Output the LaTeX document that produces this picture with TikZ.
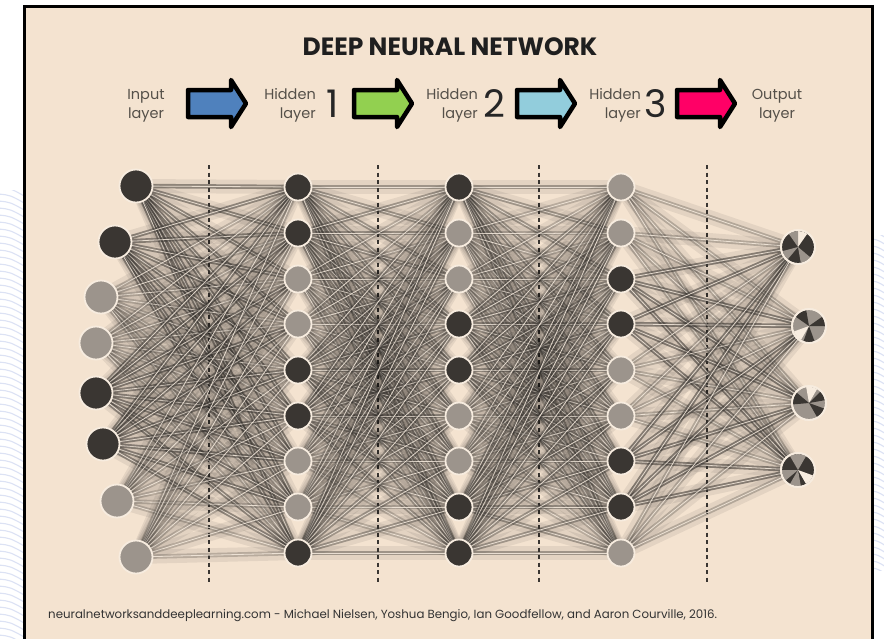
\documentclass[tikz,border=0pt]{standalone}
\usepackage{fontspec}
\setmainfont{Poppins}
\definecolor{bg}{HTML}{F4E3D0}
\definecolor{dk}{HTML}{3A3632}
\definecolor{gr}{HTML}{9C948C}
\definecolor{rim}{HTML}{F7ECDF}
\definecolor{ablue}{HTML}{4F81BD}
\definecolor{agreen}{HTML}{92D050}
\definecolor{acyan}{HTML}{92CDDC}
\definecolor{apink}{HTML}{FF0066}
\definecolor{stripe}{HTML}{DCE2F4}
\definecolor{txt}{HTML}{555049}
\newcommand\myconn[3]{%
  \draw[line width=14pt, black, opacity=0.065] (#1) -- (#2);
  \draw[line width=4.5pt, dk, opacity=#3] (#1) -- (#2);
  \draw[line width=0.8pt, rim, opacity=0.85] (#1) -- (#2);}
\newcommand\mywedge[4]{\fill[#4] (#1) -- ++(#2:16pt) arc[start angle=#2, end angle=#3, radius=16pt] -- cycle;}
\begin{document}
\begin{tikzpicture}[x=1pt,y=-1pt,
  neuron/.style={circle, draw=rim, line width=1.8pt, inner sep=0pt, minimum size=#1},
  bigarrow/.style={draw=black, line width=4.5pt, line join=round},
  sep/.style={draw=dk, line width=1.1pt, dash pattern=on 4pt off 3.5pt},
  hdr/.style={font=\fontsize{14.5}{19}\selectfont, text=txt, inner sep=0pt},
  num/.style={font=\fontsize{38}{38}\selectfont, text=black!85, inner sep=0pt}]
\useasboundingbox (0,0) rectangle (884,638);
\fill[white] (0,0) rectangle (884,638);
% outside stripes
\begin{scope}
  \clip (0,190) rectangle (24,638);
  \foreach \k in {0,...,70}
    \draw[stripe, line width=1.1pt] (-2,180+\k*7) .. controls (10,181+\k*7) .. (26,190+\k*7);
\end{scope}
\begin{scope}
  \clip (873,235) rectangle (884,570);
  \foreach \k in {0,...,50}
    \draw[stripe, line width=1.1pt] (872,225+\k*7) .. controls (878,226+\k*7) .. (886,231+\k*7);
\end{scope}
% panel
\draw[line width=2.2pt, fill=bg] (24.5,6.5) -- (872.5,6.5) -- (872.5,645) -- (24.5,645) -- cycle;
% title
\node[font=\bfseries\fontsize{25}{25}\selectfont, text=black!88, inner sep=0pt] (title) at (450,47) {DEEP NEURAL NETWORK};
% header
\node[hdr, align=center] (tin) at (146,105.5) {Input\\layer};
\node[hdr, align=right, anchor=east] (th1) at (316,105.5) {Hidden\\layer};
\node[num] (n1) at (333,104) {1};
\node[hdr, align=right, anchor=east] (th2) at (478,105.5) {Hidden\\layer};
\node[num] (n2) at (494,104) {2};
\node[hdr, align=right, anchor=east] (th3) at (641,105.5) {Hidden\\layer};
\node[num] (n3) at (656,104) {3};
\node[hdr, align=center] (tout) at (777,105.5) {Output\\layer};
\foreach \x/\c in {188/ablue, 354/agreen, 517/acyan, 677/apink}{
  \filldraw[bigarrow, fill=\c] (\x,90) -- (\x+43,90) -- (\x+43,80) -- (\x+58,103.5) -- (\x+43,127) -- (\x+43,117) -- (\x,117) -- cycle;
}
% separators
\foreach \x/\n in {209/s1, 378/s2, 539/s3, 707/s4}{
  \coordinate (\n t) at (\x,165);
  \coordinate (\n b) at (\x,582);
  \draw[sep] (\n t) -- (\n b);
}
% coordinates
\foreach \i/\x/\y in {1/136/186, 2/115/242, 3/101/297, 4/96/343, 5/96/393, 6/103/444, 7/117/501, 8/136/557}
  \coordinate (a\i) at (\x,\y);
\foreach \i/\y in {1/187, 2/233, 3/279, 4/324, 5/370, 6/416, 7/461, 8/507, 9/553}{
  \coordinate (b\i) at (298,\y);
  \coordinate (c\i) at (459,\y);
  \coordinate (d\i) at (621,\y);
}
\foreach \i/\x/\y in {1/798/247, 2/809/326, 3/809/403, 4/798/470}
  \coordinate (e\i) at (\x,\y);
% connections
\foreach \i/\o in {1/0.5, 2/0.5, 3/0.25, 4/0.25, 5/0.5, 6/0.5, 7/0.25, 8/0.25}
  \foreach \j in {1,...,9} {\myconn{a\i}{b\j}{\o}}
\foreach \i/\o in {1/0.4, 2/0.4, 3/0.25, 4/0.25, 5/0.4, 6/0.4, 7/0.25, 8/0.25, 9/0.4}
  \foreach \j in {1,...,9} {\myconn{b\i}{c\j}{\o}}
\foreach \i/\o in {1/0.4, 2/0.25, 3/0.25, 4/0.4, 5/0.4, 6/0.25, 7/0.25, 8/0.4, 9/0.4}
  \foreach \j in {1,...,9} {\myconn{c\i}{d\j}{\o}}
\foreach \i/\o in {1/0.28, 2/0.28, 3/0.55, 4/0.55, 5/0.28, 6/0.28, 7/0.55, 8/0.55, 9/0.28}
  \foreach \j in {1,...,4} {\myconn{d\i}{e\j}{\o}}
% neurons
\foreach \i/\c in {1/dk, 2/dk, 3/gr, 4/gr, 5/dk, 6/dk, 7/gr, 8/gr}
  \node[neuron=33pt, fill=\c] (na\i) at (a\i) {};
\foreach \i/\c in {1/dk, 2/dk, 3/gr, 4/gr, 5/dk, 6/dk, 7/gr, 8/gr, 9/dk}
  \node[neuron=27pt, fill=\c] (nb\i) at (b\i) {};
\foreach \i/\c in {1/dk, 2/gr, 3/gr, 4/dk, 5/dk, 6/gr, 7/gr, 8/dk, 9/dk}
  \node[neuron=27pt, fill=\c] (nc\i) at (c\i) {};
\foreach \i/\c in {1/gr, 2/gr, 3/dk, 4/dk, 5/gr, 6/gr, 7/dk, 8/dk, 9/gr}
  \node[neuron=27pt, fill=\c] (nd\i) at (d\i) {};
% output pies
\foreach \i/\c in {1/dk, 2/gr, 3/gr, 4/dk}
  \node[neuron=34pt, fill=\c] (ne\i) at (e\i) {};
\mywedge{e1}{55}{90}{rim}\mywedge{e1}{90}{125}{gr}\mywedge{e1}{195}{230}{gr}\mywedge{e1}{280}{320}{gr}
\mywedge{e2}{100}{145}{dk}\mywedge{e2}{0}{35}{dk}\mywedge{e2}{250}{290}{dk}\mywedge{e2}{200}{240}{rim}
\mywedge{e3}{60}{100}{rim}\mywedge{e3}{140}{185}{dk}\mywedge{e3}{300}{340}{dk}\mywedge{e3}{10}{45}{dk}
\mywedge{e4}{60}{120}{gr}\mywedge{e4}{180}{220}{gr}\mywedge{e4}{300}{340}{rim}\mywedge{e4}{240}{280}{gr}
\foreach \i in {1,...,4} \draw[rim, line width=1.8pt] (e\i) circle[radius=17pt];
% footer
\node[anchor=west, font=\fontsize{11.8}{12}\selectfont, text=black!80, inner sep=0pt] (foot) at (48,616) {neuralnetworksanddeeplearning.com - Michael Nielsen, Yoshua Bengio, Ian Goodfellow, and Aaron Courville, 2016.};
\end{tikzpicture}
\end{document}
